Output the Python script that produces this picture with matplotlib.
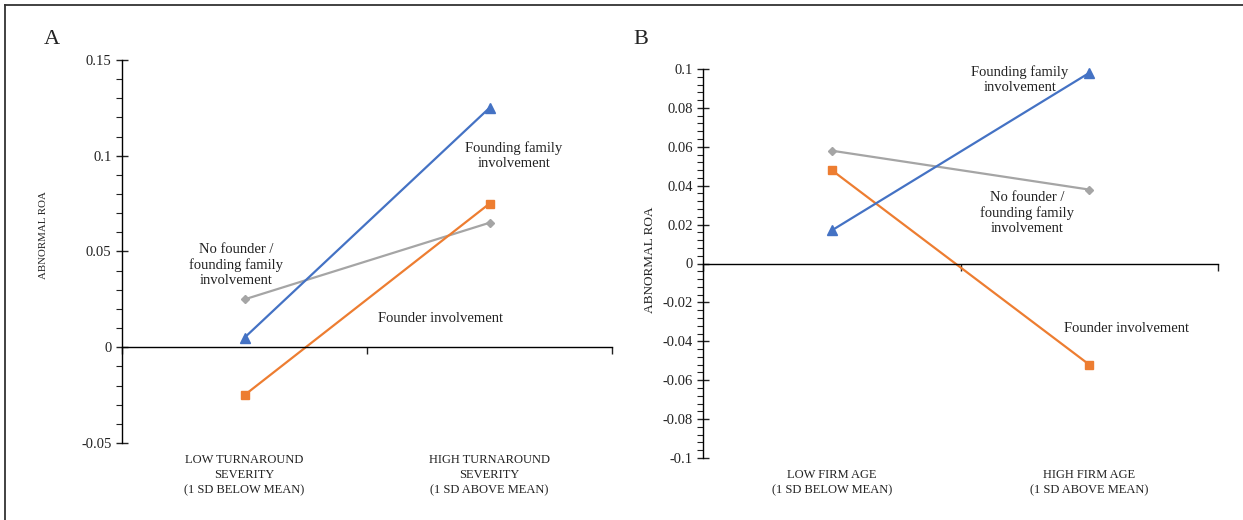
import numpy as np
import matplotlib
matplotlib.use('Agg')
import matplotlib.pyplot as plt
from matplotlib.lines import Line2D
from matplotlib.ticker import MultipleLocator

plt.rcParams['font.family'] = ['Liberation Serif', 'DejaVu Serif']
plt.rcParams['font.size'] = 10.5
plt.rcParams['text.color'] = '#222222'
plt.rcParams['xtick.color'] = '#222222'
plt.rcParams['ytick.color'] = '#222222'

# panel A data
cats_a = ['LOW TURNAROUND\nSEVERITY\n(1 SD BELOW MEAN)',
          'HIGH TURNAROUND\nSEVERITY\n(1 SD ABOVE MEAN)']
family_a = [0.005, 0.125]
founder_a = [-0.025, 0.075]
none_a = [0.025, 0.065]

# panel B data
cats_b = ['LOW FIRM AGE\n(1 SD BELOW MEAN)',
          'HIGH FIRM AGE\n(1 SD ABOVE MEAN)']
family_b = [0.017, 0.098]
founder_b = [0.048, -0.052]
none_b = [0.058, 0.038]

blue = '#4472C4'
orange = '#ED7D31'
grey = '#A5A5A5'

fig = plt.figure(figsize=(12.43, 5.2), dpi=100)

axa = fig.add_axes([122/1243, 1-443/520, 490/1243, 383/520])
axb = fig.add_axes([703/1243, 1-458/520, 515/1243, 389/520])


def fmt(v, p):
    v = round(v, 3)
    if abs(v) < 1e-9:
        return '0'
    return '%g' % v


def style_axis(ax, ymin, ymax, major, minor, cats):
    ax.set_xlim(-0.5, 1.5)
    ax.set_ylim(ymin, ymax)
    for s in ['top', 'right']:
        ax.spines[s].set_visible(False)
    ax.spines['bottom'].set_position(('data', 0))
    ax.spines['left'].set_linewidth(1.0)
    ax.spines['bottom'].set_linewidth(1.0)
    ax.set_xticks([-0.5, 0.5, 1.5])
    ax.set_xticklabels([])
    ax.tick_params(axis='x', direction='out', length=5, width=1)
    ax.yaxis.set_major_locator(MultipleLocator(major))
    ax.yaxis.set_minor_locator(MultipleLocator(minor))
    ax.tick_params(axis='y', which='major', direction='inout', length=8, width=1)
    ax.tick_params(axis='y', which='minor', direction='out', length=4, width=0.8)
    ax.yaxis.set_major_formatter(plt.FuncFormatter(fmt))
    for i, c in enumerate(cats):
        ax.annotate(c, xy=(i, 0), xycoords=('data', 'axes fraction'),
                    xytext=(0, -8), textcoords='offset points',
                    ha='center', va='top', fontsize=9, linespacing=1.35)


style_axis(axa, -0.05, 0.15, 0.05, 0.01, cats_a)
style_axis(axb, -0.1, 0.1, 0.02, 0.004, cats_b)

x = np.arange(2)
for ax, fam, fou, non in [(axa, family_a, founder_a, none_a),
                          (axb, family_b, founder_b, none_b)]:
    ax.plot(x, non, color=grey, lw=1.6, marker='D', ms=4.5, clip_on=False)
    ax.plot(x, fou, color=orange, lw=1.6, marker='s', ms=6, clip_on=False)
    ax.plot(x, fam, color=blue, lw=1.6, marker='^', ms=6.5, clip_on=False)

axa.text(1.1, 0.1, 'Founding family\ninvolvement', ha='center', va='center')
axa.text(-0.035, 0.043, 'No founder /\nfounding family\ninvolvement',
         ha='center', va='center')
axa.text(0.8, 0.015, 'Founder involvement', ha='center', va='center')

axb.text(0.73, 0.0946, 'Founding family\ninvolvement', ha='center', va='center')
axb.text(0.76, 0.0262, 'No founder /\nfounding family\ninvolvement',
         ha='center', va='center')
axb.text(1.143, -0.0334, 'Founder involvement', ha='center', va='center')

fig.text(43/1243, 1-235/520, 'ABNORMAL ROA', rotation=90, ha='center',
         va='center', fontsize=7.8)
fig.text(650/1243, 1-260/520, 'ABNORMAL ROA', rotation=90, ha='center',
         va='center', fontsize=9.5)

fig.text(52/1243, 1-40/520, 'A', ha='center', va='center', fontsize=16)
fig.text(641/1243, 1-40/520, 'B', ha='center', va='center', fontsize=16)

# outer frame (top and left edges)
fig.add_artist(Line2D([5/1243, 1], [1-5/520, 1-5/520], color='#333333', lw=1.3))
fig.add_artist(Line2D([5/1243, 5/1243], [0, 1-5/520], color='#333333', lw=1.3))

fig.savefig('out.png', dpi=100)
